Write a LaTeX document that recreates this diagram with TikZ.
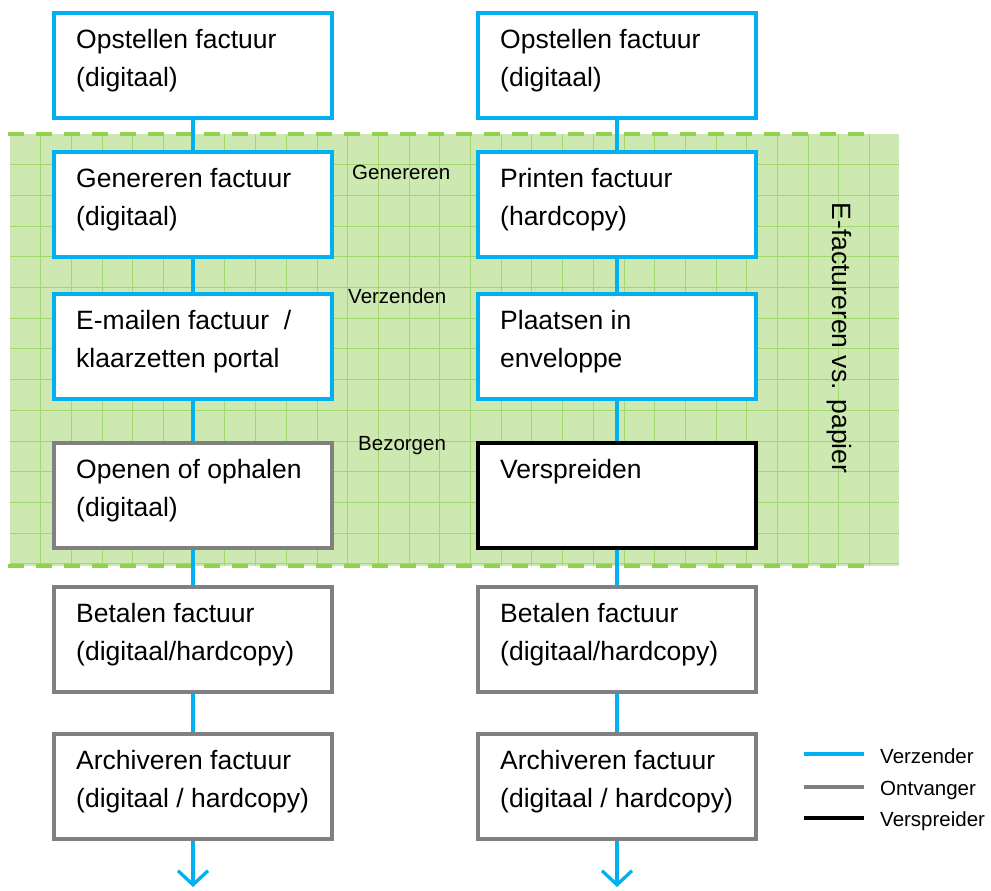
\documentclass[tikz,border=0pt]{standalone}
\usepackage{fontspec}
\setmainfont{Liberation Sans}
\usetikzlibrary{arrows.meta,calc}
\definecolor{vblue}{RGB}{0,176,240}
\definecolor{vgray}{RGB}{128,128,128}
\definecolor{gfill}{RGB}{206,232,178}
\definecolor{ggrid}{RGB}{163,216,110}
\definecolor{gdash}{RGB}{146,208,80}
\pgfdeclarelayer{bg}
\pgfdeclarelayer{mid}
\pgfsetlayers{bg,mid,main}
\begin{document}
\begin{tikzpicture}[x=1pt,y=-1pt,
 box/.style={draw, fill=white, anchor=north west, minimum width=278pt, minimum height=105pt, inner sep=0pt, outer sep=0pt},
 bluebox/.style={box, draw=vblue, line width=4pt},
 graybox/.style={box, draw=vgray, line width=3.3pt},
 blackbox/.style={box, draw=black, line width=4pt},
 boxtext/.style={anchor=north west, inner sep=0pt, align=left, font=\fontsize{26.5}{38}\selectfont},
 steplabel/.style={anchor=base west, inner sep=0pt, font=\fontsize{20.5}{24}\selectfont},
 legtext/.style={anchor=base west, inner sep=0pt, font=\fontsize{20.5}{24}\selectfont},
 conn/.style={draw=vblue, line width=3.3pt},
 legline/.style={line width=3.5pt},
]
\useasboundingbox (0,0) rectangle (991,891);

% green region
\begin{pgfonlayer}{bg}
\fill[gfill] (10,134) rectangle (899,566);
\foreach \i in {1,...,28} \draw[ggrid, line width=1pt] ({10+30.7*\i},134) -- ({10+30.7*\i},566);
\foreach \j in {1,...,14} \draw[ggrid, line width=1pt] (10,{134+30.7*\j}) -- (899,{134+30.7*\j});
\draw[gdash, line width=4pt, dash pattern=on 16pt off 12pt] (8,134) -- (870,134);
\draw[gdash, line width=4pt, dash pattern=on 16pt off 12pt] (8,566) -- (870,566);
\end{pgfonlayer}

% left column
\node[bluebox] (L1) at (54,13) {};
\node[bluebox] (L2) at (54,152) {};
\node[bluebox] (L3) at (54,294) {};
\node[graybox] (L4) at (54,443) {};
\node[graybox] (L5) at (54,587) {};
\node[graybox] (L6) at (54,734) {};
% right column
\node[bluebox] (R1) at (478,13) {};
\node[bluebox] (R2) at (478,152) {};
\node[bluebox] (R3) at (478,294) {};
\node[blackbox] (R4) at (478,443) {};
\node[graybox] (R5) at (478,587) {};
\node[graybox] (R6) at (478,734) {};

% texts
\node[boxtext] (tL1) at ($(L1.north west)+(22,16)$) {Opstellen factuur\\(digitaal)};
\node[boxtext] (tL2) at ($(L2.north west)+(22,16)$) {Genereren factuur\\(digitaal)};
\node[boxtext] (tL3) at ($(L3.north west)+(22,16)$) {E-mailen factuur \ /\\klaarzetten portal};
\node[boxtext] (tL4) at ($(L4.north west)+(22,16)$) {Openen of ophalen\\(digitaal)};
\node[boxtext] (tL5) at ($(L5.north west)+(22,16)$) {Betalen factuur\\(digitaal/hardcopy)};
\node[boxtext] (tL6) at ($(L6.north west)+(22,16)$) {Archiveren factuur\\(digitaal / hardcopy)};
\node[boxtext] (tR1) at ($(R1.north west)+(22,16)$) {Opstellen factuur\\(digitaal)};
\node[boxtext] (tR2) at ($(R2.north west)+(22,16)$) {Printen factuur\\(hardcopy)};
\node[boxtext] (tR3) at ($(R3.north west)+(22,16)$) {Plaatsen in\\enveloppe};
\node[boxtext] (tR4) at ($(R4.north west)+(22,16)$) {Verspreiden};
\node[boxtext] (tR5) at ($(R5.north west)+(22,16)$) {Betalen factuur\\(digitaal/hardcopy)};
\node[boxtext] (tR6) at ($(R6.north west)+(22,16)$) {Archiveren factuur\\(digitaal / hardcopy)};

% step labels
\node[steplabel] (s1) at (352,179) {Genereren};
\node[steplabel] (s2) at (348,303) {Verzenden};
\node[steplabel] (s3) at (358,450) {Bezorgen};

% vertical label
\node[rotate=-90, anchor=base, inner sep=0pt, font=\fontsize{26.5}{30}\selectfont] (vt) at (832,338) {E-factureren vs. papier};

% connectors
\coordinate (aL) at (193,887);
\coordinate (aR) at (617,887);
\begin{pgfonlayer}{mid}
\draw[conn] (L1.south) -- (L2.north);
\draw[conn] (L2.south) -- (L3.north);
\draw[conn] (L3.south) -- (L4.north);
\draw[conn] (L4.south) -- (L5.north);
\draw[conn] (L5.south) -- (L6.north);
\draw[conn, -{Straight Barb[length=14pt,width=30pt]}] (L6.south) -- (aL);
\draw[conn] (R1.south) -- (R2.north);
\draw[conn] (R2.south) -- (R3.north);
\draw[conn] (R3.south) -- (R4.north);
\draw[conn] (R4.south) -- (R5.north);
\draw[conn] (R5.south) -- (R6.north);
\draw[conn, -{Straight Barb[length=14pt,width=30pt]}] (R6.south) -- (aR);
\end{pgfonlayer}

% legend
\coordinate (lg1a) at (804,754); \coordinate (lg1b) at (864,754);
\coordinate (lg2a) at (804,787); \coordinate (lg2b) at (864,787);
\coordinate (lg3a) at (804,818); \coordinate (lg3b) at (864,818);
\draw[legline, vblue] (lg1a) -- (lg1b);
\draw[legline, vgray] (lg2a) -- (lg2b);
\draw[legline, black] (lg3a) -- (lg3b);
\node[legtext] (lt1) at (880,763) {Verzender};
\node[legtext] (lt2) at (880,795) {Ontvanger};
\node[legtext] (lt3) at (880,826) {Verspreider};
\end{tikzpicture}
\end{document}
